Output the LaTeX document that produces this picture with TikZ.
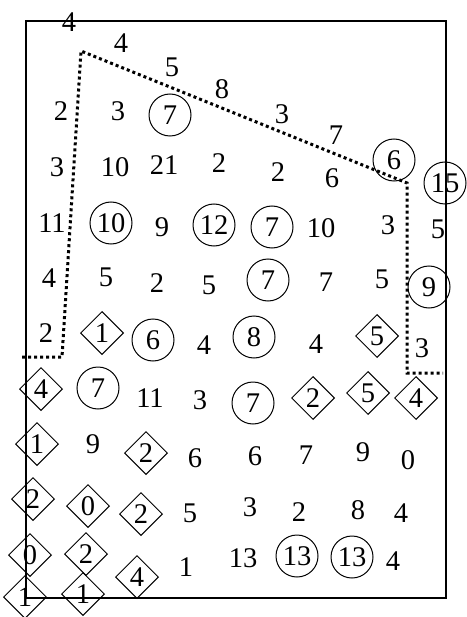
\documentclass[tikz,border=0pt]{standalone}
\usepackage{fontspec}
\setmainfont{Liberation Serif}
\usetikzlibrary{shapes.geometric}
\begin{document}
\begin{tikzpicture}[x=1pt,y=-1pt,
  num/.style={inner sep=0pt,font=\fontsize{28.5}{30}\selectfont},
  circ/.style={num,circle,draw,line width=1pt,minimum size=42pt},
  diam/.style={num,diamond,draw,line width=1pt,aspect=1,minimum width=43pt,minimum height=43pt},
  frame/.style={line width=1.2pt},
  dotline/.style={line width=3pt,dash pattern=on 3pt off 3pt}]
\useasboundingbox (0,0) rectangle (466,617);
\draw[frame] (26,21) rectangle (446,598);
% dotted region
\coordinate (p1) at (22,357);
\coordinate (p2) at (62,357);
\coordinate (p3) at (81,51);
\coordinate (p4) at (407,183);
\coordinate (p5) at (407,373);
\coordinate (p6) at (443,373);
\draw[dotline] (p1) -- (p2) -- (p3) -- (p4) -- (p5) -- (p6);
% numbers
\node[num] (a1) at (69,22) {4};
\node[num] (a2) at (121,43) {4};
\node[num] (a3) at (172,67) {5};
\node[num] (a4) at (222,89) {8};
\node[num] (a5) at (282,114) {3};
\node[num] (a6) at (336,135) {7};
\node[num] (b1) at (61,111) {2};
\node[num] (b2) at (118,111) {3};
\node[circ] (b3) at (170,115) {7};
\node[num] (c1) at (57,167) {3};
\node[num] (c2) at (115,167) {10};
\node[num] (c3) at (164,165) {21};
\node[num] (c4) at (219,163) {2};
\node[num] (c5) at (278,172) {2};
\node[num] (c6) at (332,178) {6};
\node[circ] (c7) at (394,160) {6};
\node[circ] (c8) at (445,183) {15};
\node[num] (d1) at (52,223) {11};
\node[circ] (d2) at (111,223) {10};
\node[num] (d3) at (162,227) {9};
\node[circ] (d4) at (214,225) {12};
\node[circ] (d5) at (272,227) {7};
\node[num] (d6) at (321,228) {10};
\node[num] (d7) at (388,225) {3};
\node[num] (d8) at (438,229) {5};
\node[num] (e1) at (49,278) {4};
\node[num] (e2) at (106,277) {5};
\node[num] (e3) at (157,283) {2};
\node[num] (e4) at (209,285) {5};
\node[circ] (e5) at (268,280) {7};
\node[num] (e6) at (326,282) {7};
\node[num] (e7) at (382,279) {5};
\node[circ] (e8) at (429,287) {9};
\node[num] (f1) at (46,333) {2};
\node[diam] (f2) at (102,333) {1};
\node[circ] (f3) at (153,340) {6};
\node[num] (f4) at (204,345) {4};
\node[circ] (f5) at (254,337) {8};
\node[num] (f6) at (316,344) {4};
\node[diam] (f7) at (377,336) {5};
\node[num] (f8) at (422,348) {3};
\node[diam] (g1) at (41,389) {4};
\node[circ] (g2) at (98,388) {7};
\node[num] (g3) at (150,398) {11};
\node[num] (g4) at (200,400) {3};
\node[circ] (g5) at (253,403) {7};
\node[diam] (g6) at (313,398) {2};
\node[diam] (g7) at (368,393) {5};
\node[diam] (g8) at (416,398) {4};
\node[diam] (h1) at (37,444) {1};
\node[num] (h2) at (93,444) {9};
\node[diam] (h3) at (146,453) {2};
\node[num] (h4) at (195,458) {6};
\node[num] (h5) at (255,456) {6};
\node[num] (h6) at (306,455) {7};
\node[num] (h7) at (363,452) {9};
\node[num] (h8) at (408,460) {0};
\node[diam] (i1) at (33,499) {2};
\node[diam] (i2) at (88,506) {0};
\node[diam] (i3) at (141,514) {2};
\node[num] (i4) at (190,513) {5};
\node[num] (i5) at (250,507) {3};
\node[num] (i6) at (299,512) {2};
\node[num] (i7) at (358,510) {8};
\node[num] (i8) at (401,513) {4};
\node[diam] (j1) at (30,555) {0};
\node[diam] (j2) at (86,554) {2};
\node[diam] (j3) at (137,577) {4};
\node[num] (j4) at (186,567) {1};
\node[num] (j5) at (243,558) {13};
\node[circ] (j6) at (297,556) {13};
\node[circ] (j7) at (352,557) {13};
\node[num] (j8) at (393,561) {4};
\node[diam] (k1) at (25,597) {1};
\node[diam] (k2) at (83,594) {1};
\end{tikzpicture}
\end{document}
